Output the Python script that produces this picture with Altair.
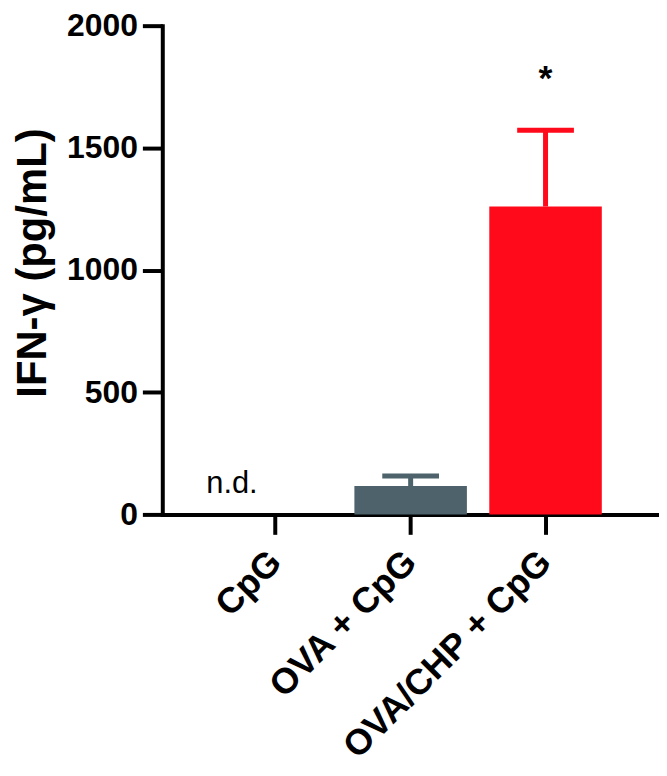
import altair as alt
import pandas as pd

groups = ["CpG", "OVA + CpG", "OVA/CHP + CpG"]
means = [0, 116, 1260]
uppers = [0, 157, 1572]
colors = ["#4d626b", "#4d626b", "#ff0a1a"]
y_ticks = [0, 500, 1000, 1500, 2000]

df = pd.DataFrame({"group": groups, "mean": means, "upper": uppers, "color": colors})
bars_df = df[df["mean"] > 0]

FONT = "Liberation Sans"

x_enc = alt.X("group:N", sort=groups,
              scale=alt.Scale(paddingInner=0.166, paddingOuter=0.424),
              axis=alt.Axis(title=None, labelAngle=-45, labelAlign="right", labelBaseline="middle",
                            labelFontSize=36, labelFontWeight="bold", labelFont=FONT,
                            labelColor="black", labelPadding=22, labelLimit=0,
                            domainWidth=4, domainColor="black", tickWidth=4, tickColor="black",
                            tickSize=20))
y_scale = alt.Scale(domain=[0, 2000], nice=False)

bars = alt.Chart(bars_df).mark_bar().encode(
    x=x_enc,
    y=alt.Y("mean:Q", scale=y_scale,
            axis=alt.Axis(title="IFN-γ (pg/mL)", values=y_ticks, grid=False, format="d",
                          labelFontSize=32, labelFontWeight="bold", labelFont=FONT, labelColor="black",
                          labelPadding=5, titleFontSize=42, titleFontWeight="bold", titleFont=FONT,
                          titleColor="black", titleX=-117, titleY=238, titleAngle=-90,
                          titleAlign="center", titleBaseline="alphabetic",
                          domainWidth=4, domainColor="black", tickWidth=4, tickColor="black",
                          tickSize=20)),
    color=alt.Color("color:N", scale=None),
)

stems = alt.Chart(bars_df).mark_rule(strokeWidth=5).encode(
    x=alt.X("group:N", sort=groups),
    y="mean:Q",
    y2="upper:Q",
    color=alt.Color("color:N", scale=None),
)

caps = alt.Chart(bars_df).mark_tick(size=57, thickness=5, opacity=1).encode(
    x=alt.X("group:N", sort=groups),
    y="upper:Q",
    color=alt.Color("color:N", scale=None),
)

star_df = pd.DataFrame({"group": ["OVA/CHP + CpG"], "y": [1815], "label": ["*"]})
star = alt.Chart(star_df).mark_text(fontSize=36, fontWeight="bold", font=FONT, color="black",
                                    baseline="middle", dy=8).encode(
    x=alt.X("group:N", sort=groups),
    y="y:Q",
    text="label:N",
)

nd_df = pd.DataFrame({"group": ["CpG"], "label": ["n.d."]})
nd = alt.Chart(nd_df).mark_text(fontSize=31, font=FONT, color="black",
                                baseline="alphabetic", align="center", dx=-44, dy=-22).encode(
    x=alt.X("group:N", sort=groups),
    y=alt.datum(0),
    text="label:N",
)

chart = alt.layer(bars, stems, caps, star, nd).properties(
    width=499, height=491,
    autosize=alt.AutoSizeParams(type="none"),
    padding={"left": 155, "top": 16, "right": 0, "bottom": 250},
).configure_view(stroke=None).configure_axisY(domainCap="square").configure_axisX(domainCap="square")

chart.save("out.html", embed_options={"renderer": "svg", "actions": False})
